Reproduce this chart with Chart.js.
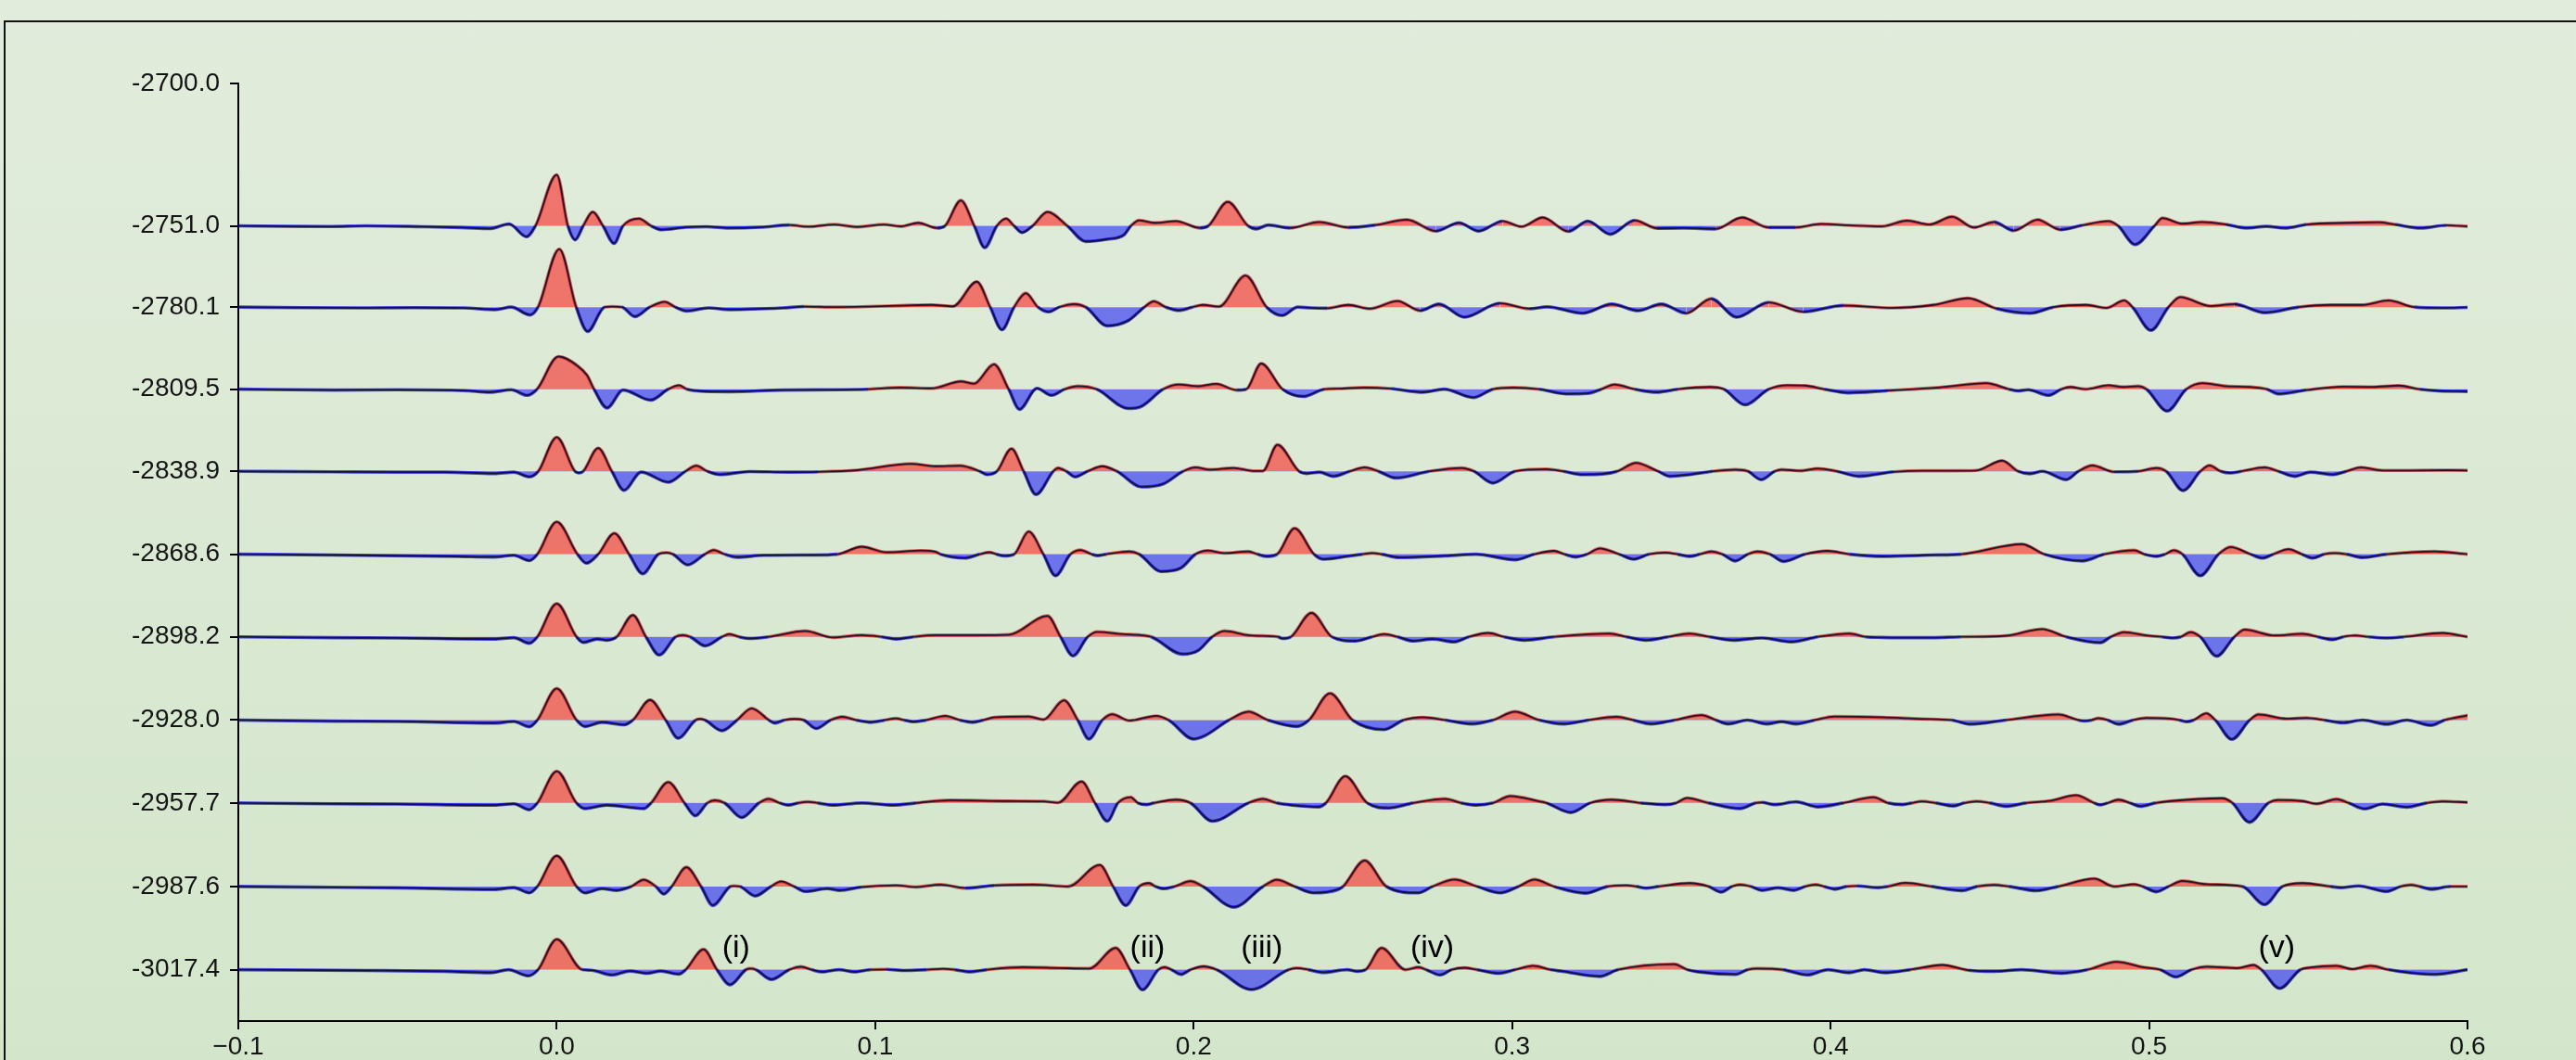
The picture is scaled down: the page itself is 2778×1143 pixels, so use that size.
<!DOCTYPE html>
<html>
<head>
<meta charset="utf-8">
<script src="https://cdn.jsdelivr.net/npm/chart.js"></script>
<style>
  html, body { margin: 0; padding: 0; width: 2778px; height: 1143px; overflow: hidden; }
  body { background: linear-gradient(to bottom, #e2ecdc 0%, #d3e6cb 100%); position: relative; }
  #frame { position: absolute; left: 4px; top: 22px; width: 3000px; height: 1400px;
           border: 2.5px solid #111; box-sizing: border-box; }
  #wig { position: absolute; left: 0; top: 0; }
</style>
</head>
<body>
<div id="frame"></div>
<canvas id="wig" width="2778" height="1143"></canvas>
<script>
// Trace depths (y position of each zero line)
const depths = [-2751.0, -2780.1, -2809.5, -2838.9, -2868.6, -2898.2, -2928.0, -2957.7, -2987.6, -3017.4];

// Tick values
const xTickValues = [-0.1, 0.0, 0.1, 0.2, 0.3, 0.4, 0.5, 0.6];
const yTickValues = [-2700.0, -2751.0, -2780.1, -2809.5, -2838.9, -2868.6, -2898.2, -2928.0, -2957.7, -2987.6, -3017.4];

// Event labels on the deepest trace
const markLabels = ['(i)', '(ii)', '(iii)', '(iv)', '(v)'];
const markTimes = [0.0563, 0.1855, 0.2214, 0.2749, 0.5401];
const markDepth = -3009.7;

// Each trace: [time, amplitude] pairs (extrema and zero crossings)
const trace2751 = [[-0.1,0],[-0.081,-0.2],[-0.071,-0.25],[-0.06,0],[-0.0423,-0.3],[-0.03,-0.6],[-0.021,-1.0],[-0.015,0.7],[-0.0095,-3.9],[-0.0067,0],[0.0,18.3],[0.0035,0],[0.0058,-5],[0.0083,0],[0.0113,5],[0.0145,0],[0.018,-6.3],[0.0208,0],[0.0258,2.6],[0.0296,0],[0.0329,-1.4],[0.0406,-0.5],[0.047,-0.3],[0.054,-0.8],[0.064,-0.5],[0.073,0.3],[0.079,-0.3],[0.087,0.5],[0.0943,-0.4],[0.1027,0.5],[0.108,-0.2],[0.1135,1.1],[0.1194,-0.8],[0.1219,0],[0.1269,9.1],[0.1311,0],[0.1344,-7.8],[0.1382,0],[0.1411,2.6],[0.1436,0],[0.1461,-2.4],[0.1494,0],[0.1541,5],[0.1603,0],[0.1661,-5.6],[0.1728,-4.8],[0.178,-3.3],[0.1803,0],[0.1828,2],[0.1878,1.1],[0.1945,1.7],[0.202,-0.8],[0.2046,0],[0.2107,8.6],[0.2171,0],[0.2196,-1.1],[0.2235,0.3],[0.2302,-0.8],[0.2394,1.4],[0.2486,-0.6],[0.257,0.3],[0.267,2.2],[0.276,-1.9],[0.2833,1.1],[0.2895,-1.9],[0.297,1.7],[0.3029,-0.3],[0.3096,3],[0.3176,-2],[0.3238,1.7],[0.3308,-3],[0.3385,2],[0.3455,-0.9],[0.3538,-0.8],[0.3639,-1.1],[0.3722,3],[0.3806,-0.6],[0.389,-0.6],[0.397,0.7],[0.406,0.2],[0.416,-0.2],[0.424,1.9],[0.431,0.5],[0.4382,3.3],[0.445,-0.6],[0.4513,1.4],[0.4575,-1.7],[0.465,2.2],[0.4721,-1.4],[0.479,0.2],[0.4872,1.7],[0.4903,0],[0.4956,-6.7],[0.5017,0],[0.5042,2.8],[0.5104,0.8],[0.5167,1.4],[0.5243,0.5],[0.5305,-0.8],[0.5369,-0.2],[0.5426,-0.8],[0.5495,0.5],[0.5621,1.1],[0.5721,1.3],[0.5772,0.5],[0.5853,-0.8],[0.5934,0.2],[0.6,-0.2]];

const trace2780 = [[-0.1,0],[-0.08,-0.2],[-0.06,-0.3],[-0.045,-0.2],[-0.0293,-0.3],[-0.0193,-0.9],[-0.0143,0],[-0.0084,-2.8],[-0.0059,0],[0.0008,20.8],[0.0061,0],[0.0097,-8.7],[0.015,0],[0.0175,0.2],[0.0205,0],[0.0245,-3.4],[0.0292,0],[0.0339,1.9],[0.0372,0],[0.0409,-1.4],[0.0476,-0.3],[0.0543,-0.9],[0.071,-0.3],[0.0776,0.2],[0.0876,0],[0.0977,0.2],[0.1094,0.6],[0.1177,0.8],[0.1244,0.3],[0.1319,9.1],[0.1361,0],[0.1398,-8.1],[0.1436,0],[0.1473,5],[0.1511,0],[0.1545,-1.7],[0.1578,0],[0.1625,1.1],[0.1661,0],[0.1728,-6.7],[0.1795,-4.8],[0.1845,0],[0.1875,2.1],[0.1912,0],[0.1954,-1.2],[0.1996,0],[0.2029,0.8],[0.2079,0.2],[0.2163,11.3],[0.2229,0],[0.2278,-3],[0.2327,0],[0.2369,-0.3],[0.2419,-0.4],[0.2486,0.8],[0.2553,-0.6],[0.264,2.2],[0.2711,-1.3],[0.277,1.1],[0.285,-3.6],[0.2962,1.4],[0.3054,-0.6],[0.311,0.1],[0.3221,-2.2],[0.3313,1.1],[0.3396,-1.3],[0.3468,1.1],[0.3547,-2.2],[0.3625,3],[0.3705,-3.6],[0.3806,1.7],[0.3914,-1.7],[0.404,0.6],[0.419,-0.3],[0.4323,0.8],[0.4432,3.2],[0.452,-0.5],[0.4627,-2.2],[0.47,0],[0.4803,0.8],[0.4866,-0.3],[0.4922,2.4],[0.4948,0],[0.5006,-8.3],[0.5061,0],[0.5098,3.6],[0.5193,0.4],[0.5268,1.1],[0.5363,-2],[0.547,0],[0.557,0.8],[0.5671,0.8],[0.5752,2.4],[0.5834,0],[0.5922,-0.3],[0.6,-0.1]];

const trace2809 = [[-0.1,0],[-0.07,-0.3],[-0.05,-0.2],[-0.029,-0.5],[-0.0209,-1.1],[-0.0143,-0.2],[-0.0093,-2.2],[-0.0062,0],[0.0005,11.7],[0.0066,8.3],[0.0095,5],[0.0117,0],[0.0158,-6.7],[0.0208,-0.3],[0.0295,-3.9],[0.035,0],[0.0384,1.4],[0.0409,0],[0.0442,-0.6],[0.0543,-0.9],[0.071,-0.3],[0.0876,-0.2],[0.0977,0],[0.1077,0.6],[0.1177,0.3],[0.1269,2.8],[0.131,2],[0.1373,8.9],[0.1419,0],[0.1453,-7.2],[0.1508,0.3],[0.1553,-2.2],[0.1595,0],[0.1636,1.1],[0.1695,0],[0.1795,-6.9],[0.1837,-6.1],[0.1904,0],[0.1954,1.7],[0.2012,1.1],[0.2071,1.9],[0.2135,-0.3],[0.2165,0],[0.2212,9.2],[0.2279,0],[0.2345,-2.6],[0.241,0],[0.2452,0.2],[0.2535,0.6],[0.262,0.2],[0.272,-1.1],[0.2786,0],[0.2878,-3],[0.294,0],[0.3004,0.6],[0.3085,0],[0.3171,-1.7],[0.3238,-1.5],[0.328,0],[0.3321,1.7],[0.3385,0],[0.3455,-1.1],[0.352,0],[0.3621,0.8],[0.3665,0],[0.3731,-5.6],[0.3806,0],[0.3864,1.4],[0.392,1.3],[0.398,0],[0.4056,-1.3],[0.418,-0.5],[0.434,0.6],[0.4489,2.2],[0.456,0],[0.4589,-0.6],[0.462,-0.2],[0.4684,-2.2],[0.4725,0],[0.4752,0.8],[0.48,0],[0.4872,1.4],[0.492,0.8],[0.4966,1.1],[0.4992,0],[0.5057,-7.8],[0.5117,0],[0.5168,2.2],[0.5243,1.1],[0.5318,0.8],[0.537,0],[0.5407,-1.7],[0.5495,-0.3],[0.5608,0.9],[0.57,0.8],[0.5784,1.3],[0.585,0],[0.5909,-0.6],[0.6,-0.8]];

const trace2838 = [[-0.1,0],[-0.07,-0.2],[-0.05,-0.3],[-0.0351,-0.3],[-0.0197,-0.8],[-0.0135,-0.3],[-0.0086,-2],[-0.0058,0],[0.0,12.2],[0.0057,0],[0.0069,-0.6],[0.0083,0],[0.013,8.3],[0.0173,0],[0.0211,-6.8],[0.0265,-0.3],[0.035,-3.9],[0.0404,0],[0.0438,2],[0.0473,0],[0.0512,-1.2],[0.0605,-0.1],[0.073,-0.3],[0.082,-0.2],[0.0943,0.4],[0.1112,2.7],[0.119,1.8],[0.1266,2],[0.1328,0],[0.1351,-1.2],[0.1382,0],[0.1428,8.1],[0.1466,0],[0.1505,-8.3],[0.1559,0],[0.1574,1.2],[0.16,0],[0.1628,-2],[0.1667,0],[0.1713,1.8],[0.1759,0],[0.1836,-5.6],[0.1905,-4.5],[0.1967,0],[0.2006,1.4],[0.205,0.6],[0.2126,1.2],[0.218,0.2],[0.2217,0.1],[0.2263,9.5],[0.2331,0],[0.2355,-0.8],[0.2395,-0.3],[0.2438,-1.8],[0.249,0],[0.2537,1.4],[0.258,0],[0.2635,-2.4],[0.274,0],[0.2842,1.2],[0.288,0],[0.294,-4.2],[0.3009,0],[0.3108,0.8],[0.316,0],[0.3222,-1.2],[0.3284,-1],[0.333,0],[0.3389,3],[0.3458,0],[0.3496,-1.8],[0.3557,-1.2],[0.363,0],[0.3701,0.6],[0.374,0],[0.3782,-3],[0.3825,0],[0.3846,0.6],[0.3905,0.2],[0.396,1],[0.402,0],[0.4089,-1.8],[0.4198,-0.2],[0.429,0.2],[0.4386,0.2],[0.4457,0.3],[0.4539,3.8],[0.4589,0],[0.4626,-0.9],[0.4665,0],[0.474,-3],[0.4778,0],[0.4822,2.1],[0.4891,-0.2],[0.4966,0],[0.5023,1.2],[0.5054,0],[0.5107,-6.9],[0.5161,0],[0.519,2.1],[0.5225,0],[0.5256,-0.6],[0.529,0],[0.5363,1.4],[0.5406,0],[0.5457,-1.8],[0.5507,-0.3],[0.5576,-1.2],[0.562,0],[0.5665,1.4],[0.5734,0.3],[0.5822,0.3],[0.5935,0.4],[0.6,0.3]];

const trace2868 = [[-0.1,0],[-0.07,-0.3],[-0.0314,-0.8],[-0.0197,-1],[-0.0135,-0.4],[-0.0086,-2.3],[-0.0061,0],[0.0,11.6],[0.0065,0],[0.0093,-3.2],[0.013,0],[0.0181,7.5],[0.0227,0],[0.027,-7],[0.0319,0],[0.0345,0.6],[0.0365,0],[0.0411,-3.8],[0.0465,0],[0.0493,1.5],[0.0527,0],[0.0566,-1.1],[0.065,-0.4],[0.0804,-0.3],[0.0881,0],[0.0958,2.7],[0.1035,0.7],[0.1144,1.3],[0.1189,0.9],[0.1205,0],[0.1282,-1.4],[0.1328,0],[0.1359,0.7],[0.138,0],[0.1405,-0.6],[0.1436,0],[0.1482,8.1],[0.1528,0],[0.1566,-7.7],[0.1613,0],[0.1645,1.5],[0.168,0],[0.1698,-0.5],[0.1725,0],[0.1798,1],[0.1829,0],[0.1898,-6.2],[0.1959,-5],[0.2006,0],[0.2044,1.3],[0.2096,0.4],[0.2172,1],[0.22,0],[0.2229,-0.8],[0.2262,0],[0.2317,9.3],[0.2378,0],[0.2408,-1.8],[0.2491,-0.6],[0.253,0],[0.256,0.4],[0.259,0],[0.2644,-1.2],[0.279,-0.6],[0.2887,0],[0.3009,-2],[0.307,0],[0.3131,1.2],[0.3165,0],[0.3199,-1],[0.3235,0],[0.3275,2.1],[0.3336,0],[0.3382,-1.8],[0.343,0],[0.348,0.6],[0.352,0],[0.3557,-0.8],[0.359,0],[0.3625,1],[0.366,0],[0.3701,-2.4],[0.374,0],[0.377,1],[0.381,0],[0.3853,-2.6],[0.392,0],[0.399,1.2],[0.4059,0],[0.4166,-0.8],[0.4317,-0.3],[0.441,0],[0.4601,3.6],[0.4671,0],[0.479,-2.4],[0.486,0],[0.4954,1.4],[0.4985,0],[0.5023,-0.8],[0.505,0],[0.5077,1.4],[0.5105,0],[0.5161,-7.7],[0.5218,0],[0.5256,2.6],[0.5319,0],[0.5356,-1.4],[0.539,0],[0.5438,1.8],[0.548,0],[0.5514,-1.4],[0.555,0],[0.5583,0.4],[0.562,0],[0.5671,-1.2],[0.5746,0],[0.5897,1],[0.6,0]];

const trace2898 = [[-0.1,0],[-0.07,-0.3],[-0.05,-0.4],[-0.0197,-0.8],[-0.0135,-0.3],[-0.0086,-2.3],[-0.0061,0],[0.0,11.9],[0.0062,0],[0.0083,-2],[0.0127,-0.8],[0.0157,-1.2],[0.0188,0],[0.0239,7.8],[0.028,0],[0.0322,-6.5],[0.0373,0],[0.0396,0.6],[0.0419,0],[0.0466,-3.2],[0.0519,0],[0.0542,1],[0.0573,0],[0.0604,-0.6],[0.0665,0],[0.0781,2.1],[0.0866,-0.2],[0.0958,0.6],[0.102,0],[0.1066,-0.8],[0.112,0],[0.1189,0.6],[0.1313,0.6],[0.142,0.8],[0.1541,7.5],[0.1582,0],[0.1621,-6.8],[0.1667,0],[0.1698,1.8],[0.1775,1],[0.1836,0.6],[0.1867,0],[0.1965,-6.2],[0.2015,-4.8],[0.2058,0],[0.2096,2.1],[0.2172,0.6],[0.2248,0.2],[0.2265,0],[0.2279,-0.6],[0.2305,0],[0.237,8.6],[0.2434,0],[0.2507,-1.5],[0.256,0],[0.2598,1],[0.264,0],[0.2689,-1.5],[0.275,-0.8],[0.2819,-1.8],[0.2864,0],[0.2925,1.4],[0.2975,0],[0.3039,-1.2],[0.3131,0],[0.3306,1.2],[0.3359,0],[0.342,-1.2],[0.349,0],[0.3557,1.2],[0.362,0],[0.3694,-1.2],[0.3785,-0.4],[0.3876,-1.8],[0.396,0],[0.4059,1.2],[0.411,0],[0.416,-0.2],[0.4317,-0.3],[0.4409,0],[0.4551,0.4],[0.4664,2.8],[0.474,0],[0.4847,-2.1],[0.488,0],[0.4922,1.7],[0.4992,0.5],[0.504,0],[0.5074,-0.4],[0.51,0],[0.513,1.7],[0.5161,0],[0.5212,-6.9],[0.5268,0],[0.53,2.6],[0.5394,0.5],[0.5482,1.1],[0.553,0],[0.5577,-1],[0.561,0],[0.5646,0.5],[0.569,0],[0.5746,-0.4],[0.58,0],[0.5922,1.4],[0.6,0]];

const trace2928 = [[-0.1,0],[-0.07,-0.4],[-0.05,-0.5],[-0.0197,-1.1],[-0.0135,-0.5],[-0.0086,-2.4],[-0.0061,0],[0.0,11.3],[0.0062,0],[0.0088,-2.3],[0.0142,-0.8],[0.0211,-1.7],[0.0239,0],[0.0293,7.2],[0.0342,0],[0.0381,-6.5],[0.0436,0],[0.045,0.4],[0.0465,0],[0.0519,-3.8],[0.0566,0],[0.0612,4.2],[0.0666,0],[0.0684,-1.1],[0.0715,0],[0.0746,0.4],[0.0775,0],[0.0815,-3],[0.086,0],[0.0897,1.2],[0.094,0],[0.0986,-0.8],[0.103,0],[0.1066,0.6],[0.109,0],[0.112,-0.6],[0.116,0],[0.122,1.5],[0.1265,0],[0.1305,-0.8],[0.134,0],[0.1374,1],[0.1482,1.3],[0.1528,0.2],[0.1593,7.1],[0.1636,0],[0.1671,-6.8],[0.1713,0],[0.1744,2.1],[0.1798,-0.2],[0.1882,1.5],[0.1921,0],[0.2,-6.8],[0.2035,-5.6],[0.2111,0],[0.2172,3],[0.2233,0],[0.2324,-2.3],[0.2362,0],[0.2428,9.6],[0.2499,0],[0.2598,-3.4],[0.2659,0],[0.272,1],[0.279,0],[0.2872,-1.4],[0.294,0],[0.3009,3],[0.3085,0],[0.3161,-1.4],[0.324,0],[0.3328,1.2],[0.338,0],[0.3435,-1.4],[0.351,0],[0.3595,1.8],[0.364,0],[0.3678,-1.4],[0.3739,0],[0.38,-1.4],[0.3846,-0.6],[0.3892,-1.4],[0.395,0],[0.4013,1.3],[0.4165,1],[0.4287,0.4],[0.438,0],[0.4438,-1.5],[0.4551,0],[0.4715,2],[0.4778,0],[0.4797,-0.3],[0.482,0],[0.4841,0.7],[0.487,0],[0.4904,-1.5],[0.495,0],[0.4991,0.8],[0.5067,0.5],[0.5095,0],[0.5118,-0.6],[0.514,0],[0.518,2.4],[0.5208,0],[0.526,-6.9],[0.5316,0],[0.5344,2],[0.5432,0.5],[0.5495,0.8],[0.555,0],[0.5608,-1],[0.5671,0],[0.5746,-1.5],[0.5809,0],[0.5885,-1.9],[0.5928,0],[0.6,1.7]];

const trace2957 = [[-0.1,0],[-0.07,-0.3],[-0.05,-0.4],[-0.0197,-0.8],[-0.0135,-0.3],[-0.0086,-2.4],[-0.0061,0],[0.0,11.4],[0.0062,0],[0.0088,-2],[0.0157,-0.8],[0.0273,-2],[0.0296,0],[0.035,7.5],[0.0401,0],[0.0435,-4.6],[0.0473,0],[0.0496,1],[0.0527,0],[0.0581,-5.2],[0.0635,0],[0.0665,1.5],[0.07,0],[0.0727,-0.8],[0.0758,0],[0.0789,0.4],[0.082,0],[0.0866,-0.8],[0.0958,0],[0.1058,-0.8],[0.1128,0],[0.1235,1],[0.142,0.7],[0.1528,0.6],[0.1574,0.1],[0.1648,7.7],[0.169,0],[0.1729,-6.5],[0.1762,0],[0.1802,2.1],[0.1825,0],[0.1851,-0.6],[0.1875,0],[0.1944,1.2],[0.199,0],[0.2058,-6.5],[0.2172,0],[0.2217,1.5],[0.226,0],[0.2309,-0.8],[0.2392,-1.4],[0.2415,0],[0.2476,9.6],[0.2545,0],[0.2613,-1.8],[0.2689,0],[0.279,1.5],[0.284,0],[0.2887,-0.8],[0.294,0],[0.2994,2.5],[0.3085,0.6],[0.3108,0],[0.3184,-3.4],[0.3245,0],[0.3313,1.2],[0.3404,0],[0.3481,-0.6],[0.3515,0],[0.3549,1.8],[0.3617,0],[0.3716,-2],[0.3765,0],[0.3785,0.2],[0.3823,-0.6],[0.3892,0.4],[0.396,-1.4],[0.404,0],[0.4135,2.1],[0.418,0],[0.4226,-0.6],[0.4255,0],[0.4287,0.6],[0.433,0],[0.4385,-1.1],[0.442,0],[0.4457,0.6],[0.45,0],[0.4551,-1.2],[0.4614,0],[0.469,0.8],[0.4771,2.8],[0.4828,0],[0.4847,-0.7],[0.487,0],[0.4904,1.2],[0.494,0],[0.4973,-1.2],[0.502,0],[0.5067,0.7],[0.523,1.7],[0.5262,0],[0.5315,-6.9],[0.5375,0],[0.5406,1.1],[0.5482,0.7],[0.5526,-0.3],[0.5589,1.4],[0.5627,0],[0.5677,-2.1],[0.5734,-0.4],[0.5809,-1.5],[0.5872,0],[0.5922,0.6],[0.6,0.2]];

const trace2987 = [[-0.1,0],[-0.07,-0.3],[-0.05,-0.5],[-0.0197,-1.1],[-0.0135,-0.4],[-0.0086,-2.3],[-0.0061,0],[0.0,11],[0.0062,0],[0.0088,-2.3],[0.0142,-0.8],[0.0188,-1.4],[0.0234,0],[0.0273,2.4],[0.0311,0],[0.0336,-2.7],[0.0361,0],[0.0407,6.9],[0.0453,0],[0.049,-6.8],[0.0545,0],[0.0555,0.2],[0.0575,0],[0.0623,-3.4],[0.0673,0],[0.0704,1.8],[0.0745,0],[0.0781,-1.8],[0.085,-0.8],[0.0889,-1.4],[0.0958,-0.2],[0.1066,0.4],[0.1128,-0.2],[0.1205,0.7],[0.1282,-0.6],[0.1374,0.4],[0.1497,0.7],[0.1605,0],[0.1705,7.7],[0.1747,0],[0.1787,-6.8],[0.1829,0],[0.186,1.2],[0.188,0],[0.1905,-0.8],[0.194,0],[0.199,1.9],[0.2029,0],[0.2126,-7.4],[0.2218,0],[0.2261,2.4],[0.2317,0],[0.2377,-2.3],[0.2453,-1.1],[0.2469,0],[0.2537,9.3],[0.2605,0],[0.2705,-2.3],[0.275,0],[0.2819,2.5],[0.289,0],[0.2963,-2.3],[0.302,0],[0.307,2.5],[0.3131,0],[0.323,-2.4],[0.33,0],[0.3359,0.4],[0.339,0],[0.342,-0.6],[0.346,0],[0.3557,1.2],[0.3617,0],[0.3656,-2],[0.369,0],[0.3716,0.7],[0.375,0],[0.3785,-1.4],[0.3835,-0.5],[0.3884,-1.4],[0.392,0],[0.3952,0.7],[0.398,0],[0.4013,-1],[0.405,0],[0.4082,0.2],[0.415,-0.4],[0.418,0],[0.4234,1.3],[0.4317,0],[0.4413,-1.5],[0.446,0],[0.4513,0.6],[0.456,0],[0.4646,-1.5],[0.4715,0],[0.4828,2.8],[0.4891,0],[0.4954,0.8],[0.498,0],[0.5023,-1.9],[0.5061,0],[0.5105,2],[0.518,0.8],[0.5293,0],[0.5363,-6.5],[0.5419,0],[0.5482,1.2],[0.557,0],[0.5601,-0.4],[0.5658,0.2],[0.5746,-1.8],[0.579,0],[0.5822,0.6],[0.585,0],[0.5885,-1],[0.5947,0],[0.6,0]];

const trace3017 = [[-0.1,0],[-0.06,-0.3],[-0.0356,-0.6],[-0.0207,-1.1],[-0.0152,0],[-0.009,-2.2],[-0.0059,0],[0.0,10.9],[0.008,0],[0.0108,-0.2],[0.0173,-1.9],[0.0229,-0.5],[0.0284,-1.3],[0.0327,-0.5],[0.0383,-1.6],[0.0405,0],[0.0461,7.3],[0.0503,0],[0.0544,-5.4],[0.0594,0],[0.0609,0.4],[0.0625,0],[0.0674,-3.5],[0.073,0],[0.0767,1.1],[0.08,0],[0.0832,-0.8],[0.0887,0],[0.0934,-0.8],[0.0985,0],[0.1036,0.1],[0.1092,-0.3],[0.1162,0],[0.1212,0.3],[0.125,0],[0.1296,-0.8],[0.135,0],[0.1463,0.9],[0.158,0.6],[0.1672,0.4],[0.1755,7.8],[0.18,0],[0.1839,-7.2],[0.1889,0],[0.1909,0.9],[0.193,0],[0.196,-1.7],[0.199,0],[0.2031,1.2],[0.2072,0],[0.2181,-7.1],[0.2298,0],[0.2323,0.6],[0.236,0],[0.2406,-1],[0.2482,0],[0.2515,-0.6],[0.254,0],[0.259,7.8],[0.2665,0],[0.2707,0.9],[0.273,0],[0.2774,-1.9],[0.281,0],[0.2849,0.7],[0.289,0],[0.2958,-1.3],[0.301,0],[0.3066,1.4],[0.312,0],[0.3158,-0.6],[0.3275,-2.4],[0.3333,0],[0.3509,2],[0.355,0],[0.3584,-0.8],[0.3701,-1.7],[0.374,0],[0.3768,0.4],[0.385,0],[0.3927,-1.9],[0.3992,0],[0.4058,-1.1],[0.4106,0],[0.4172,-1.1],[0.425,0],[0.4351,1.7],[0.4432,-0.2],[0.4514,-0.6],[0.46,0],[0.4725,-1.3],[0.4807,0],[0.4897,2.8],[0.4986,0.8],[0.5035,0],[0.5084,-2.6],[0.5133,0],[0.5182,1.1],[0.5279,0.6],[0.5328,1.7],[0.5353,0],[0.541,-6.7],[0.5475,0],[0.5507,0.8],[0.5589,1.4],[0.5638,0.2],[0.5695,1.4],[0.5752,0],[0.5784,-0.6],[0.5899,-1.7],[0.6,0]];

const traces = [trace2751, trace2780, trace2809, trace2838, trace2868, trace2898, trace2928, trace2957, trace2987, trace3017];

const FONT = '"Liberation Sans", Arial, sans-serif';
Chart.defaults.font.family = FONT;
Chart.defaults.font.size = 28;
Chart.defaults.color = '#141414';

const RED = 'rgba(255,0,0,0.5)';
const BLUE = 'rgba(0,0,255,0.5)';
const RED_EDGE = 'rgba(200,0,0,0.55)';
const BLUE_EDGE = 'rgba(0,0,235,0.65)';

const datasets = [];
traces.forEach((pts, i) => {
  const base = depths[i];
  const data = pts.map(([t, a]) => ({ x: t, y: base + a }));
  // filled wiggle with a sign-coloured edge
  datasets.push({
    data,
    order: 2,
    borderWidth: 3.6,
    borderColor: BLUE_EDGE,
    segment: {
      borderColor: (ctx) => ((ctx.p0.parsed.y + ctx.p1.parsed.y) / 2 >= base ? RED_EDGE : BLUE_EDGE)
    },
    pointRadius: 0,
    cubicInterpolationMode: 'monotone',
    fill: { target: { value: base }, above: RED, below: BLUE }
  });
  // thin dark trace line on top
  datasets.push({
    data,
    order: 1,
    borderWidth: 1.8,
    borderColor: 'rgba(15,10,35,0.88)',
    pointRadius: 0,
    cubicInterpolationMode: 'monotone',
    fill: false
  });
});

// Roman-numeral event labels placed in data coordinates
const eventLabels = {
  id: 'eventLabels',
  afterDatasetsDraw(chart) {
    const { ctx, scales: { x, y } } = chart;
    ctx.save();
    ctx.font = '34px ' + FONT;
    ctx.fillStyle = '#000';
    ctx.textAlign = 'center';
    ctx.textBaseline = 'middle';
    markLabels.forEach((txt, i) => {
      ctx.fillText(txt, x.getPixelForValue(markTimes[i]), y.getPixelForValue(markDepth));
    });
    ctx.restore();
  }
};

new Chart(document.getElementById('wig'), {
  type: 'line',
  data: { datasets },
  plugins: [eventLabels],
  options: {
    responsive: false,
    devicePixelRatio: 1,
    animation: false,
    events: [],
    layout: { padding: { top: 90, right: 117, left: 0, bottom: 0 } },
    plugins: { legend: { display: false }, tooltip: { enabled: false } },
    scales: {
      x: {
        type: 'linear',
        min: -0.1,
        max: 0.6,
        afterBuildTicks: (axis) => { axis.ticks = xTickValues.map(v => ({ value: v })); },
        afterFit: (axis) => { axis.height = 42; },
        ticks: {
          autoSkip: false,
          maxRotation: 0,
          padding: 2,
          color: '#141414',
          callback: (v) => (v < -1e-9 ? '\u2212' : '') + Math.abs(v).toFixed(1)
        },
        grid: { display: true, drawOnChartArea: false, drawTicks: true, tickLength: 9, color: '#000', lineWidth: 2 },
        border: { display: true, color: '#000', width: 2 }
      },
      y: {
        type: 'linear',
        min: -3035.8,
        max: -2700,
        afterBuildTicks: (axis) => { axis.ticks = yTickValues.map(v => ({ value: v })); },
        afterFit: (axis) => { axis.width = 257; },
        ticks: {
          autoSkip: false,
          padding: 11,
          color: '#141414',
          callback: (v) => v.toFixed(1)
        },
        grid: { display: true, drawOnChartArea: false, drawTicks: true, tickLength: 9, color: '#000', lineWidth: 2 },
        border: { display: true, color: '#000', width: 2 }
      }
    }
  }
});
</script>
</body>
</html>
